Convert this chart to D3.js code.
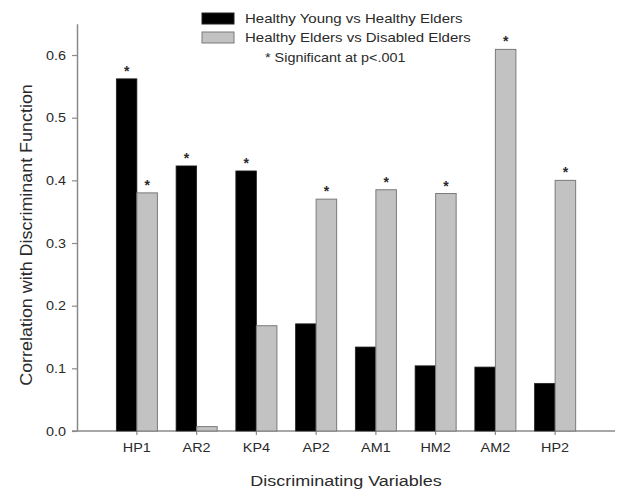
<!DOCTYPE html>
<html>
<head>
<meta charset="utf-8">
<script src="https://cdn.jsdelivr.net/npm/d3@7"></script>
<style>
  body { margin: 0; background: #fff; }
  svg { display: block; font-family: Arial, "Liberation Sans", sans-serif; }
</style>
</head>
<body>
<figure id="bar" style="margin:0"></figure>
<script>
// data
const categories = ["HP1", "AR2", "KP4", "AP2", "AM1", "HM2", "AM2", "HP2"];
const youngVsElders = [0.562, 0.423, 0.415, 0.171, 0.134, 0.104, 0.102, 0.076];
const eldersVsDisabled = [0.380, 0.007, 0.168, 0.370, 0.385, 0.379, 0.609, 0.400];
// significance markers (1 = starred)
const sigYoung = [1, 1, 1, 0, 0, 0, 0, 0];
const sigDisabled = [1, 0, 0, 1, 1, 1, 1, 1];
const yTicks = [0.0, 0.1, 0.2, 0.3, 0.4, 0.5, 0.6];
const seriesNames = ["Healthy Young vs Healthy Elders", "Healthy Elders vs Disabled Elders"];
const noteText = "* Significant at p<.001";

const width = 618, height = 493;
const axisColor = "#8a8a8a";
const textColor = "#2a2a2a";
const stretch = "scale(1.2,1)";

const svg = d3.select("figure#bar")
  .append("svg")
  .attr("width", width)
  .attr("height", height);

// scales
const x = d3.scaleBand()
  .domain(categories)
  .range([107, 585])
  .paddingInner(0.313)
  .paddingOuter(0.1565);

const y = d3.scaleLinear()
  .domain([0, 0.65])
  .range([431, 23.7]);

const half = x.bandwidth() / 2;

// y axis
const yAxis = svg.append("g")
  .attr("transform", "translate(77,0)")
  .call(d3.axisLeft(y).tickValues(yTicks).tickFormat(d3.format(".1f")).tickSize(5).tickSizeOuter(0));
yAxis.select(".domain").attr("stroke", axisColor).attr("stroke-width", 1.5);
yAxis.selectAll(".tick line").attr("stroke", axisColor).attr("stroke-width", 1.2);
yAxis.selectAll(".tick text")
  .attr("x", 0).attr("dy", "0.35em")
  .attr("transform", "translate(-11,0) " + stretch)
  .attr("fill", textColor)
  .style("font-size", "12px");

// x axis
const xAxis = svg.append("g")
  .attr("transform", "translate(0,431)")
  .call(d3.axisBottom(x).tickSize(4).tickSizeOuter(0));
xAxis.select(".domain").remove();
xAxis.selectAll(".tick line").attr("stroke", axisColor).attr("stroke-width", 1.2);
xAxis.selectAll(".tick text")
  .attr("y", 0).attr("dy", 0)
  .attr("transform", "translate(0,21) " + stretch)
  .attr("fill", textColor)
  .style("font-size", "12px");
svg.append("line")
  .attr("x1", 72).attr("x2", 615)
  .attr("y1", y(0)).attr("y2", y(0))
  .attr("stroke", axisColor).attr("stroke-width", 1.5);

// bars
const rows = categories.map((c, i) => ({
  cat: c, a: youngVsElders[i], b: eldersVsDisabled[i], sa: sigYoung[i], sb: sigDisabled[i]
}));

svg.selectAll(".barA")
  .data(rows)
  .enter()
  .append("rect")
  .attr("class", "barA")
  .attr("x", d => x(d.cat))
  .attr("y", d => y(d.a))
  .attr("width", half)
  .attr("height", d => y(0) - y(d.a))
  .attr("fill", "#000")
  .attr("stroke", "#222")
  .attr("stroke-width", 0.8);

svg.selectAll(".barB")
  .data(rows)
  .enter()
  .append("rect")
  .attr("class", "barB")
  .attr("x", d => x(d.cat) + half)
  .attr("y", d => y(d.b))
  .attr("width", half)
  .attr("height", d => y(0) - y(d.b))
  .attr("fill", "#c2c2c2")
  .attr("stroke", "#7a7a7a")
  .attr("stroke-width", 1);

// asterisks
const stars = [];
rows.forEach(d => {
  if (d.sa) stars.push({ x: x(d.cat) + half / 2, v: d.a });
  if (d.sb) stars.push({ x: x(d.cat) + half * 1.5, v: d.b });
});
svg.selectAll(".star")
  .data(stars)
  .enter()
  .append("text")
  .attr("class", "star")
  .attr("x", d => d.x)
  .attr("y", d => y(d.v) - 3)
  .attr("text-anchor", "middle")
  .attr("fill", textColor)
  .style("font-size", "14px")
  .style("font-weight", "bold")
  .text("*");

// legend
const legend = svg.append("g");
const legendFill = ["#000", "#c2c2c2"];
const legendStroke = ["#222", "#7a7a7a"];
seriesNames.forEach((name, i) => {
  legend.append("rect")
    .attr("x", 202).attr("y", 13 + i * 19)
    .attr("width", 32).attr("height", 11)
    .attr("fill", legendFill[i])
    .attr("stroke", legendStroke[i]);
  legend.append("text")
    .attr("transform", `translate(245,${23 + i * 19}) ${stretch}`)
    .attr("fill", textColor)
    .style("font-size", "12.5px")
    .text(name);
});
legend.append("text")
  .attr("transform", `translate(265,62) ${stretch}`)
  .attr("fill", textColor)
  .style("font-size", "12px")
  .text(noteText);

// axis titles
svg.append("text")
  .attr("transform", `translate(346,486) ${stretch}`)
  .attr("text-anchor", "middle")
  .attr("fill", textColor)
  .style("font-size", "15px")
  .text("Discriminating Variables");

svg.append("text")
  .attr("transform", "translate(32,235) rotate(-90) scale(1.28,1.2)")
  .attr("text-anchor", "middle")
  .attr("fill", textColor)
  .style("font-size", "14px")
  .text("Correlation with Discriminant Function");
</script>
</body>
</html>
